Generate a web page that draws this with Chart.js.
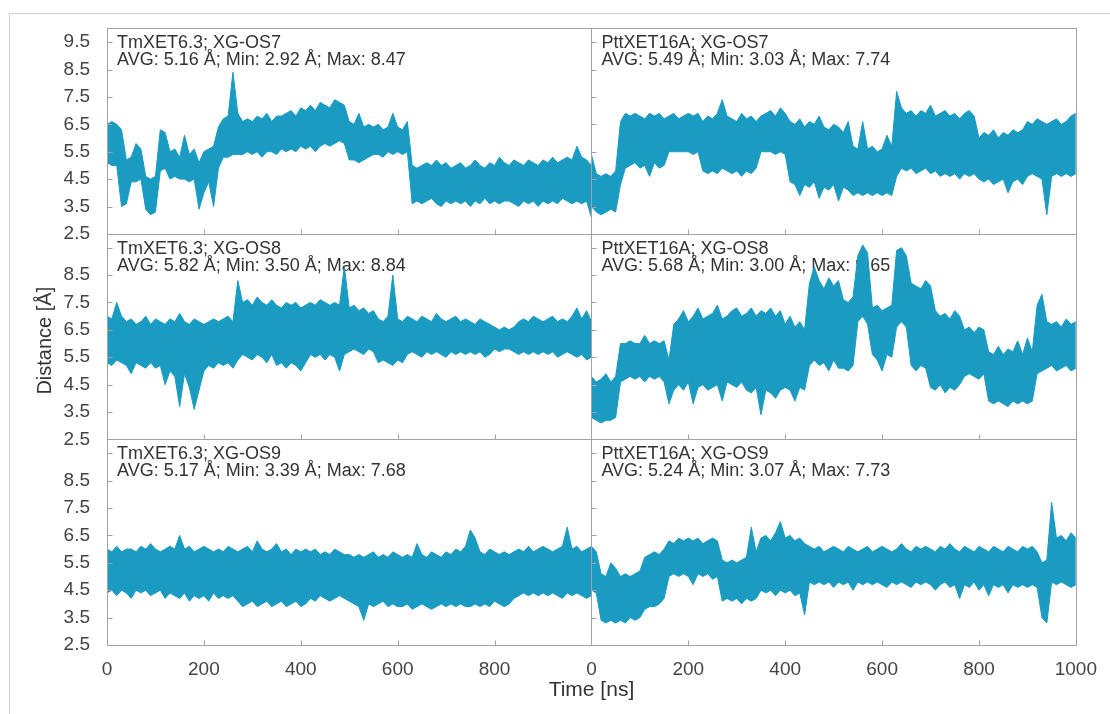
<!DOCTYPE html>
<html>
<head>
<meta charset="utf-8">
<title>Distance traces</title>
<script src="https://cdn.jsdelivr.net/npm/chart.js@4.4.1/dist/chart.umd.min.js"></script>
<style>
  body { margin: 0; background: #fff; }
  #wrap { position: relative; width: 1110px; height: 714px; }
  #frame { position: absolute; left: 9px; top: 13px; right: 0; bottom: 0;
           border-top: 1px solid #d2d2d2; border-left: 1px solid #d2d2d2; }
  #chart { position: absolute; left: 0; top: 0; }
</style>
</head>
<body>
<div id="wrap">
  <div id="frame"></div>
  <canvas id="chart" width="1110" height="714"></canvas>
</div>
<script>
// sample grid: one envelope point every 10 ns
const times = Array.from({ length: 101 }, (_, i) => i * 10);

const xTicks = [0, 200, 400, 600, 800, 1000];
const yTicks = [2.5, 3.5, 4.5, 5.5, 6.5, 7.5, 8.5, 9.5];

const panelNames = [
  'TmXET6.3; XG-OS7', 'PttXET16A; XG-OS7',
  'TmXET6.3; XG-OS8', 'PttXET16A; XG-OS8',
  'TmXET6.3; XG-OS9', 'PttXET16A; XG-OS9'
];
const panelStats = [
  'AVG: 5.16 Å; Min: 2.92 Å; Max: 8.47', 'AVG: 5.49 Å; Min: 3.03 Å; Max: 7.74',
  'AVG: 5.82 Å; Min: 3.50 Å; Max: 8.84', 'AVG: 5.68 Å; Min: 3.00 Å; Max: 9.65',
  'AVG: 5.17 Å; Min: 3.39 Å; Max: 7.68', 'AVG: 5.24 Å; Min: 3.07 Å; Max: 7.73'
];

// upper / lower envelope of each distance trace (Å), per 10 ns window
const tmOs7Hi = [
  6.5, 6.6, 6.5, 6.3, 5.2, 5.3, 5.8, 5.6, 4.6, 4.5,
  4.6, 6.3, 6.2, 5.5, 5.6, 5.3, 6.1, 5.4, 5.6, 5.1,
  5.5, 5.6, 5.7, 6.4, 6.7, 6.8, 8.4, 6.9, 6.6, 6.7,
  6.6, 6.8, 6.7, 6.9, 6.6, 6.8, 6.8, 6.9, 7.0, 6.8,
  7.1, 7.0, 7.2, 7.0, 7.3, 7.2, 7.1, 7.4, 7.3, 7.2,
  6.6, 6.5, 6.9, 6.4, 6.5, 6.4, 6.5, 6.3, 6.4, 6.9,
  6.4, 6.3, 6.6, 5.0, 4.9, 5.0, 5.1, 5.0, 5.2, 5.0,
  5.1, 4.9, 5.0, 5.1, 4.9, 5.0, 5.2, 5.0, 4.9, 5.1,
  5.0, 5.3, 5.1, 5.0, 5.2, 5.1, 5.0, 5.2, 5.1, 5.0,
  5.2, 5.1, 5.3, 5.1, 5.2, 5.3, 5.2, 5.7, 5.3, 5.2,
  5.0
];
const tmOs7Lo = [
  5.1, 5.0, 5.0, 3.5, 3.6, 4.4, 4.4, 4.5, 3.4, 3.2,
  3.3, 4.8, 4.9, 4.5, 4.6, 4.5, 4.5, 4.4, 4.5, 3.4,
  4.0, 4.4, 3.5, 4.9, 5.3, 5.3, 5.4, 5.4, 5.4, 5.5,
  5.4, 5.5, 5.3, 5.5, 5.5, 5.4, 5.6, 5.5, 5.6, 5.5,
  5.7, 5.6, 5.7, 5.5, 5.7, 5.8, 5.7, 5.8, 5.9, 5.8,
  5.2, 5.2, 5.1, 5.2, 5.3, 5.4, 5.4, 5.3, 5.5, 5.4,
  5.5, 5.4, 5.5, 3.6, 3.7, 3.6, 3.7, 3.8, 3.6, 3.5,
  3.7, 3.6, 3.7, 3.6, 3.7, 3.5, 3.7, 3.6, 3.8, 3.6,
  3.7, 3.6, 3.7, 3.7, 3.6, 3.5, 3.7, 3.6, 3.7, 3.5,
  3.7, 3.6, 3.7, 3.6, 3.8, 3.7, 3.6, 3.7, 3.6, 3.7,
  3.1
];
const pttOs7Hi = [
  5.4, 4.7, 4.6, 4.7, 4.6, 4.8, 6.6, 6.9, 6.8, 6.9,
  6.8, 6.7, 6.9, 6.8, 6.9, 6.7, 6.8, 6.9, 6.7, 6.8,
  6.9, 6.8, 6.9, 6.6, 6.8, 6.7, 6.9, 7.4, 6.8, 6.7,
  6.6, 6.9, 6.7, 6.8, 6.6, 6.8, 6.9, 7.0, 6.8, 7.1,
  6.9, 6.6, 6.5, 6.7, 6.4, 6.6, 6.5, 6.8, 6.4, 6.3,
  6.5, 6.4, 6.2, 6.6, 5.7, 5.6, 6.6, 5.6, 5.7, 5.5,
  5.6, 6.1, 5.7, 7.7, 7.1, 6.9, 7.0, 6.8, 7.0, 6.9,
  7.2, 6.8, 6.9, 7.0, 6.8, 6.9, 6.7, 6.9, 7.0, 6.8,
  6.0, 6.2, 6.1, 6.3, 6.0, 6.2, 6.1, 6.3, 6.2, 6.3,
  6.6, 6.5, 6.7, 6.6, 6.5, 6.6, 6.7, 6.5, 6.6, 6.8,
  6.9
];
const pttOs7Lo = [
  3.5, 3.3, 3.2, 3.3, 3.4, 3.3, 4.3, 4.9, 5.0, 5.1,
  4.9, 5.0, 4.6, 5.1, 4.9, 5.0, 5.5, 5.5, 5.5, 5.5,
  5.5, 5.4, 5.5, 4.8, 4.7, 4.8, 4.7, 4.9, 4.8, 4.7,
  4.8, 4.6, 4.8, 4.7, 4.9, 5.5, 5.5, 5.5, 5.4, 5.5,
  5.4, 4.4, 4.3, 3.9, 4.3, 4.2, 4.4, 3.8, 4.2, 4.1,
  4.3, 3.7, 4.2, 4.1, 3.9, 4.0, 3.9, 4.0, 3.9, 4.0,
  3.9, 4.0, 3.9, 4.6, 4.9, 4.8, 4.9, 4.7, 4.8, 4.9,
  4.7, 4.8, 4.6, 4.7, 4.6, 4.7, 4.5, 4.7, 4.6, 4.7,
  4.5, 4.4, 4.5, 4.3, 4.4, 4.5, 4.0, 4.4, 4.5, 4.3,
  4.6, 4.7, 4.6, 4.5, 3.2, 4.6, 4.7, 4.6, 4.7, 4.6,
  4.7
];
const tmOs8Hi = [
  7.0, 6.9, 7.5, 7.0, 6.8, 6.9, 6.7, 6.8, 7.0, 6.7,
  6.9, 6.8, 6.7, 6.9, 6.8, 7.1, 6.8, 6.7, 6.9, 6.8,
  6.7, 6.8, 6.9, 6.8, 6.9, 7.0, 6.8, 8.3, 7.5, 7.6,
  7.4, 7.7, 7.5, 7.4, 7.6, 7.4, 7.3, 7.5, 7.4, 7.5,
  7.3, 7.4, 7.5, 7.4, 7.6, 7.5, 7.4, 7.5, 7.4, 8.8,
  7.3, 7.4, 7.2, 7.3, 7.1, 7.2, 6.9, 6.8, 7.0, 8.5,
  6.9, 6.8, 7.0, 6.9, 6.8, 7.0, 6.9, 6.8, 7.1, 6.9,
  6.8, 6.9, 7.0, 6.8, 6.9, 6.8, 6.7, 6.9, 6.8, 6.7,
  6.6, 6.5, 6.6, 6.5, 6.6, 6.8, 6.9, 6.8, 7.0, 6.9,
  6.8, 6.9, 7.0, 6.8, 6.9, 6.8, 7.0, 7.3, 6.9, 7.2,
  6.8
];
const tmOs8Lo = [
  5.3, 5.2, 5.4, 5.3, 5.2, 4.9, 5.3, 5.2, 5.1, 5.3,
  5.1, 5.2, 4.5, 5.0, 4.8, 3.7, 4.9, 4.4, 3.6, 4.3,
  5.0, 5.2, 5.1, 5.3, 5.2, 5.3, 5.1, 5.4, 5.6, 5.5,
  5.4, 5.6, 5.5, 5.3, 5.6, 5.2, 5.3, 5.1, 5.3, 5.2,
  5.0, 5.3, 5.6, 5.5, 5.6, 5.4, 5.6, 5.5, 5.0, 5.6,
  5.7, 5.8, 5.7, 5.6, 5.8, 5.7, 5.3, 5.4, 5.3, 5.2,
  5.4, 5.3, 5.6, 5.7, 5.6, 5.5, 5.7, 5.6, 5.7, 5.6,
  5.5, 5.7, 5.6, 5.7, 5.6, 5.7, 5.6, 5.7, 5.5, 5.6,
  5.8, 5.7, 5.8, 5.8, 5.7, 5.6, 5.7, 5.6, 5.7, 5.6,
  5.7, 5.6, 5.7, 5.5, 5.6, 5.7, 5.6, 5.5, 5.6, 5.4,
  5.5
];
const pttOs8Hi = [
  4.8, 4.6, 4.7, 4.9, 4.6, 4.8, 6.0, 6.0, 6.1, 6.0,
  6.0, 6.3, 6.0, 6.1, 6.0, 6.1, 5.4, 6.7, 6.9, 7.2,
  6.8, 7.0, 7.3, 6.9, 7.0, 7.1, 7.4, 6.9, 7.0, 7.2,
  7.3, 7.0, 7.1, 7.3, 7.0, 7.2, 7.1, 7.3, 7.0, 7.2,
  6.7, 7.0, 6.6, 6.8, 6.5, 8.2, 8.8, 8.3, 8.0, 8.4,
  8.1, 8.3, 7.6, 7.5, 7.7, 9.2, 9.6, 9.3, 7.3, 7.4,
  7.2, 7.3, 7.4, 9.4, 9.5, 9.2, 8.2, 8.1, 8.0, 8.3,
  8.1, 7.2, 7.0, 7.1, 6.9, 7.2, 7.0, 6.5, 6.6, 6.4,
  6.6, 6.5, 5.7, 5.6, 5.9, 5.6, 5.8, 5.7, 6.1, 5.6,
  6.2, 5.7, 7.4, 7.8, 6.8, 6.7, 6.8, 6.6, 6.9, 6.7,
  6.8
];
const pttOs8Lo = [
  3.3, 3.2, 3.1, 3.2, 3.2, 3.3, 4.6, 4.7, 4.8, 4.7,
  4.8, 4.6, 4.8, 4.7, 4.8, 4.6, 3.8, 4.3, 4.5, 4.3,
  4.6, 3.8, 4.4, 4.5, 4.3, 4.4, 4.5, 3.9, 4.6, 4.5,
  4.4, 4.6, 4.3, 4.2, 4.4, 3.4, 4.3, 4.2, 4.0, 4.3,
  4.4, 4.3, 3.9, 4.4, 4.3, 5.2, 5.4, 5.2, 5.3, 5.0,
  5.4, 5.1, 5.1, 5.0, 5.2, 6.8, 7.0, 6.7, 5.6, 5.4,
  5.0, 5.6, 5.5, 6.6, 6.8, 6.6, 5.2, 5.0, 5.2, 5.1,
  4.4, 4.3, 4.5, 4.2, 4.4, 4.3, 4.5, 4.8, 4.9, 4.8,
  4.7, 4.9, 3.9, 3.8, 3.9, 3.8, 3.7, 3.9, 3.8, 3.9,
  3.8, 3.9, 4.9, 5.0, 5.1, 5.2, 5.0, 5.1, 5.2, 5.0,
  5.1
];
const tmOs9Hi = [
  6.0, 5.9, 6.1, 5.9, 6.0, 6.0, 5.9, 6.1, 6.0, 6.2,
  6.0, 5.9, 6.0, 6.1, 6.0, 6.5, 6.0, 6.1, 5.9, 6.0,
  6.1, 6.0, 5.9, 6.0, 5.9, 6.1, 6.0, 5.9, 6.0, 6.1,
  5.9, 6.3, 6.0, 5.9, 6.0, 6.2, 5.9, 6.0, 5.8, 6.0,
  5.9, 6.0, 5.9, 6.0, 5.8, 5.9, 5.8, 6.0, 5.9, 5.8,
  5.8, 5.7, 5.8, 5.7, 5.8, 5.9, 5.7, 5.8, 5.7, 5.9,
  5.8, 5.7, 5.8, 5.7, 6.2, 5.8, 5.7, 5.9, 5.8, 5.7,
  5.9, 5.8, 6.0, 5.9, 6.1, 6.7, 6.4, 5.9, 5.8, 6.0,
  5.9, 5.8, 5.9, 5.8, 5.9, 6.0, 5.9, 6.1, 5.9, 6.0,
  6.1, 6.0, 5.9, 6.0, 6.1, 6.8, 6.0, 6.1, 5.9, 6.0,
  6.1
];
const tmOs9Lo = [
  4.4, 4.5, 4.3, 4.5, 4.4, 4.2, 4.5, 4.4, 4.5, 4.3,
  4.4, 4.5, 4.2, 4.4, 4.3, 4.2, 4.4, 4.1, 4.3, 4.2,
  4.3, 4.1, 4.4, 4.2, 4.3, 4.2, 4.3, 4.1, 3.9, 4.0,
  4.1, 3.9, 4.0, 4.1, 3.9, 4.0, 4.1, 3.9, 4.0, 4.1,
  3.9, 4.0, 4.2, 4.1, 4.3, 4.2, 4.1, 4.2, 4.3, 4.2,
  4.1, 4.0, 3.9, 3.4, 4.0, 3.9, 4.0, 4.1, 3.9, 4.0,
  3.9, 3.9, 4.0, 3.8, 3.9, 4.0, 3.9, 3.8, 3.9, 4.0,
  3.9, 4.0, 3.9, 4.0, 3.9, 3.9, 4.0, 3.9, 4.0, 3.9,
  4.1, 4.0, 3.9, 4.0, 4.2, 4.3, 4.4, 4.3, 4.4, 4.3,
  4.4, 4.3, 4.4, 4.3, 4.2, 4.4, 4.3, 4.4, 4.3, 4.2,
  4.3
];
const pttOs9Hi = [
  6.1, 5.9, 5.1, 5.0, 5.5, 5.3, 5.0, 5.1, 5.0, 5.1,
  5.2, 5.7, 5.8, 5.9, 5.8, 6.0, 6.3, 6.2, 6.4, 6.3,
  6.4, 6.3, 6.4, 6.2, 6.3, 6.4, 6.3, 5.6, 5.5, 5.6,
  5.5, 5.6, 5.7, 6.8, 5.9, 6.4, 6.5, 6.3, 6.6, 7.0,
  6.4, 6.5, 6.3, 6.4, 6.2, 6.1, 6.0, 6.1, 5.9, 6.0,
  6.1, 6.0, 5.9, 6.1, 6.0, 5.9, 6.0, 6.1, 5.9, 6.0,
  6.1, 6.0, 5.9, 6.0, 6.2, 6.0, 5.9, 6.1, 6.0, 6.1,
  6.0, 5.9, 6.1, 6.0, 6.2, 6.0, 5.9, 6.1, 6.0, 5.9,
  6.1, 6.0, 5.9, 6.1, 6.0, 5.9, 6.1, 6.0, 5.9, 6.1,
  6.0, 6.1, 5.9, 5.5, 5.6, 7.7, 6.4, 6.5, 6.3, 6.6,
  6.4
];
const pttOs9Lo = [
  4.5, 4.4, 3.4, 3.3, 3.4, 3.3, 3.4, 3.3, 3.5, 3.4,
  3.5, 3.8, 3.9, 3.9, 4.0, 4.2, 5.0, 5.1, 5.0, 5.1,
  5.0, 4.7, 5.1, 5.0, 5.1, 4.9, 5.0, 4.1, 4.2, 4.1,
  4.2, 4.0, 4.2, 4.1, 4.2, 4.5, 4.4, 4.5, 4.3, 4.5,
  4.4, 4.5, 4.3, 4.4, 3.6, 4.8, 4.7, 4.8, 4.7, 4.8,
  4.6, 4.8, 4.7, 4.8, 4.5, 4.8, 4.7, 4.8, 4.7, 4.8,
  4.7, 4.6, 4.8, 4.7, 4.8, 4.7, 4.6, 4.8, 4.7, 4.8,
  4.7, 4.5, 4.7, 4.8, 4.6, 4.7, 4.2, 4.7, 4.6, 4.8,
  4.5, 4.7, 4.3, 4.7, 4.6, 4.7, 4.4, 4.7, 4.6, 4.7,
  4.6, 4.7, 4.6, 3.5, 3.3, 4.8, 4.7, 4.8, 4.7, 4.6,
  4.7
];

const traceColor = '#1a9bc1';
const fontFamily = '"Liberation Sans", Arial, Helvetica, sans-serif';

// panels in reading order: rows share a y axis, columns share an x axis
const panels = [
  { x: 'xL', y: 'y0', hi: tmOs7Hi,  lo: tmOs7Lo },
  { x: 'xR', y: 'y0', hi: pttOs7Hi, lo: pttOs7Lo },
  { x: 'xL', y: 'y1', hi: tmOs8Hi,  lo: tmOs8Lo },
  { x: 'xR', y: 'y1', hi: pttOs8Hi, lo: pttOs8Lo },
  { x: 'xL', y: 'y2', hi: tmOs9Hi,  lo: tmOs9Lo },
  { x: 'xR', y: 'y2', hi: pttOs9Hi, lo: pttOs9Lo }
];

const toPoints = arr => arr.map((v, i) => ({ x: times[i], y: v }));

const datasets = [];
panels.forEach(p => {
  // upper edge fills down to the lower edge that follows it
  datasets.push({
    data: toPoints(p.hi), xAxisID: p.x, yAxisID: p.y,
    borderColor: traceColor, backgroundColor: traceColor, borderWidth: 1, fill: '+1'
  });
  datasets.push({
    data: toPoints(p.lo), xAxisID: p.x, yAxisID: p.y,
    borderColor: traceColor, borderWidth: 1, fill: false
  });
});

function timeAxis(showLast) {
  return {
    type: 'linear', position: 'bottom', stack: 'time', min: 0, max: 1000,
    afterBuildTicks: s => { s.ticks = xTicks.map(v => ({ value: v })); },
    afterFit: s => { s.height = 69; },
    grid: { display: false, drawTicks: false },
    border: { display: false },
    ticks: {
      padding: 13, autoSkip: false, maxRotation: 0, color: '#444',
      font: { size: 19 },
      callback: v => (v === 1000 && !showLast) ? '' : String(v)
    }
  };
}

function distAxis(showTop, weight) {
  return {
    type: 'linear', position: 'left', stack: 'dist', weight, min: 2.5, max: 10,
    afterBuildTicks: s => { s.ticks = yTicks.map(v => ({ value: v })); },
    afterFit: s => { s.width = 107; },
    grid: { display: false, drawTicks: false },
    border: { display: false },
    ticks: {
      padding: 17, autoSkip: false, color: '#444',
      font: { size: 19 },
      callback: v => (v === 9.5 && !showTop) ? '' : v.toFixed(1)
    }
  };
}

// frames, inward tick marks, panel captions and axis titles
const panelDecor = {
  id: 'panelDecor',
  beforeDatasetsDraw(chart) {
    const ctx = chart.ctx;
    ctx.save();
    ctx.font = '18px ' + fontFamily;
    ctx.fillStyle = '#333';
    ctx.textBaseline = 'middle';
    panels.forEach((p, i) => {
      const xs = chart.scales[p.x], ys = chart.scales[p.y];
      ctx.fillText(panelNames[i], xs.left + 10, ys.top + 15);
      ctx.fillText(panelStats[i], xs.left + 10, ys.top + 32);
    });
    ctx.restore();
  },
  afterDatasetsDraw(chart) {
    const ctx = chart.ctx;
    ctx.save();
    ctx.strokeStyle = '#a3a3a3';
    ctx.lineWidth = 1;
    panels.forEach(p => {
      const xs = chart.scales[p.x], ys = chart.scales[p.y];
      const l = Math.round(xs.left) + 0.5, r = Math.round(xs.right) + 0.5;
      const t = Math.round(ys.top) + 0.5, b = Math.round(ys.bottom) + 0.5;
      ctx.strokeRect(l, t, r - l, b - t);
      ctx.beginPath();
      xTicks.slice(1, -1).forEach(v => {
        const px = Math.round(xs.getPixelForValue(v)) + 0.5;
        ctx.moveTo(px, b);
        ctx.lineTo(px, b - 5);
      });
      yTicks.slice(1).forEach(v => {
        const py = Math.round(ys.getPixelForValue(v)) + 0.5;
        ctx.moveTo(l, py);
        ctx.lineTo(l + 5, py);
      });
      ctx.stroke();
    });
    ctx.restore();
  },
  afterDraw(chart) {
    const ctx = chart.ctx;
    const area = chart.chartArea;
    ctx.save();
    ctx.font = '21px ' + fontFamily;
    ctx.fillStyle = '#333';
    ctx.textAlign = 'center';
    ctx.textBaseline = 'middle';
    ctx.fillText('Time [ns]', (area.left + area.right) / 2, 690);
    ctx.font = '20px ' + fontFamily;
    ctx.translate(45, (area.top + area.bottom) / 2 + 4);
    ctx.rotate(-Math.PI / 2);
    ctx.fillText('Distance [Å]', 0, 0);
    ctx.restore();
  }
};

Chart.defaults.font.family = fontFamily;

new Chart(document.getElementById('chart'), {
  type: 'line',
  data: { datasets },
  options: {
    responsive: false,
    animation: false,
    layout: { padding: { top: 27, right: 33, bottom: 0, left: 0 } },
    elements: { point: { radius: 0 }, line: { tension: 0 } },
    plugins: { legend: { display: false }, tooltip: { enabled: false } },
    scales: {
      xL: timeAxis(false),
      xR: timeAxis(true),
      y0: distAxis(true, 3),
      y1: distAxis(false, 2),
      y2: distAxis(false, 1)
    }
  },
  plugins: [panelDecor]
});
</script>
</body>
</html>
